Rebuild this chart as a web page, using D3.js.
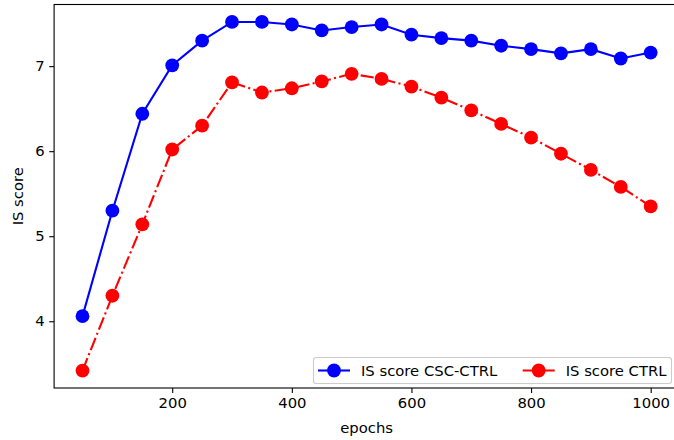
<!DOCTYPE html>
<html>
<head>
<meta charset="utf-8">
<script src="https://cdn.jsdelivr.net/npm/d3@7"></script>
<style>
  body { margin: 0; background: #fff; }
  svg { display: block; font-family: "DejaVu Sans", sans-serif; }
</style>
</head>
<body>
<svg id="chart" width="674" height="440"></svg>
<script>
const epochs = [50, 100, 150, 200, 250, 300, 350, 400, 450, 500, 550, 600, 650, 700, 750, 800, 850, 900, 950, 1000]
const cscCtrl = [4.06, 5.30, 6.44, 7.01, 7.30, 7.52, 7.52, 7.49, 7.42, 7.46, 7.49, 7.37, 7.33, 7.30, 7.24, 7.20, 7.15, 7.20, 7.09, 7.16]
const ctrl = [3.42, 4.30, 5.14, 6.02, 6.30, 6.81, 6.69, 6.74, 6.82, 6.91, 6.85, 6.76, 6.63, 6.48, 6.32, 6.16, 5.97, 5.78, 5.58, 5.35]
const xTicks = [200, 400, 600, 800, 1000]
const yTicks = [4, 5, 6, 7]

const series = [
  {name: 'IS score CSC-CTRL', values: cscCtrl, color: '#0000ff', dash: null},
  {name: 'IS score CTRL', values: ctrl, color: '#ff0000', dash: '13.3,3.3,2.1,3.3'}
]

const fontSize = 14.8
const svg = d3.select('#chart')
const plot = {left: 54.1, right: 679.1, top: 4.5, bottom: 388}

// matplotlib style 5% margins
const x = d3.scaleLinear().domain([2.5, 1047.5]).range([plot.left, plot.right])
const yMin = d3.min(ctrl), yMax = d3.max(cscCtrl)
const yPad = (yMax - yMin) * 0.05
const y = d3.scaleLinear().domain([yMin - yPad, yMax + yPad]).range([plot.bottom, plot.top])

const styleAxis = (g) => {
  g.select('.domain').remove()
  g.selectAll('line').attr('stroke', '#000').attr('stroke-width', 1.1)
  g.selectAll('text').attr('font-size', fontSize).attr('fill', '#000').attr('font-family', 'DejaVu Sans')
}

svg.append('g')
  .attr('transform', `translate(0,${plot.bottom})`)
  .call(d3.axisBottom(x).tickValues(xTicks).tickSize(4.9).tickPadding(4.2).tickFormat(d3.format('d')))
  .call(styleAxis)

svg.append('g')
  .attr('transform', `translate(${plot.left},0)`)
  .call(d3.axisLeft(y).tickValues(yTicks).tickSize(4.9).tickPadding(4.5).tickFormat(d3.format('d')))
  .call(styleAxis)

svg.append('rect')
  .attr('x', plot.left).attr('y', plot.top)
  .attr('width', plot.right - plot.left).attr('height', plot.bottom - plot.top)
  .attr('fill', 'none').attr('stroke', '#000').attr('stroke-width', 1.1)

const line = d3.line()
  .x((d, i) => x(epochs[i]))
  .y((d) => y(d))

series.forEach((s) => {
  const g = svg.append('g')
  g.append('path')
    .datum(s.values)
    .attr('d', line)
    .attr('fill', 'none')
    .attr('stroke', s.color)
    .attr('stroke-width', 2.1)
    .attr('stroke-dasharray', s.dash)
  g.selectAll('circle')
    .data(s.values)
    .join('circle')
      .attr('cx', (d, i) => x(epochs[i]))
      .attr('cy', (d) => y(d))
      .attr('r', 6.9)
      .attr('fill', s.color)
})

// legend, lower right, two columns
const legend = svg.append('g')
legend.append('rect')
  .attr('x', 313.5).attr('y', 357.5)
  .attr('width', 358).attr('height', 26)
  .attr('rx', 2.5)
  .attr('fill', '#fff').attr('fill-opacity', 0.8)
  .attr('stroke', '#cccccc').attr('stroke-width', 1.1)

const legendX = [318, 522.7]
series.forEach((s, i) => {
  const lx = legendX[i]
  const ly = 370.5
  legend.append('line')
    .attr('x1', lx).attr('x2', lx + 32)
    .attr('y1', ly).attr('y2', ly)
    .attr('stroke', s.color).attr('stroke-width', 2.1)
    .attr('stroke-dasharray', s.dash)
  legend.append('circle')
    .attr('cx', lx + 16).attr('cy', ly).attr('r', 6.9)
    .attr('fill', s.color)
  legend.append('text')
    .attr('x', lx + 43).attr('y', ly)
    .attr('dy', '0.36em')
    .attr('font-size', fontSize)
    .attr('fill', '#000')
    .text(s.name)
})

svg.append('text')
  .attr('x', (plot.left + plot.right) / 2)
  .attr('y', 433)
  .attr('text-anchor', 'middle')
  .attr('font-size', fontSize)
  .attr('fill', '#000')
  .text('epochs')

svg.append('text')
  .attr('transform', `translate(23,${(plot.top + plot.bottom) / 2}) rotate(-90)`)
  .attr('text-anchor', 'middle')
  .attr('font-size', fontSize)
  .attr('fill', '#000')
  .text('IS score')
</script>
</body>
</html>
